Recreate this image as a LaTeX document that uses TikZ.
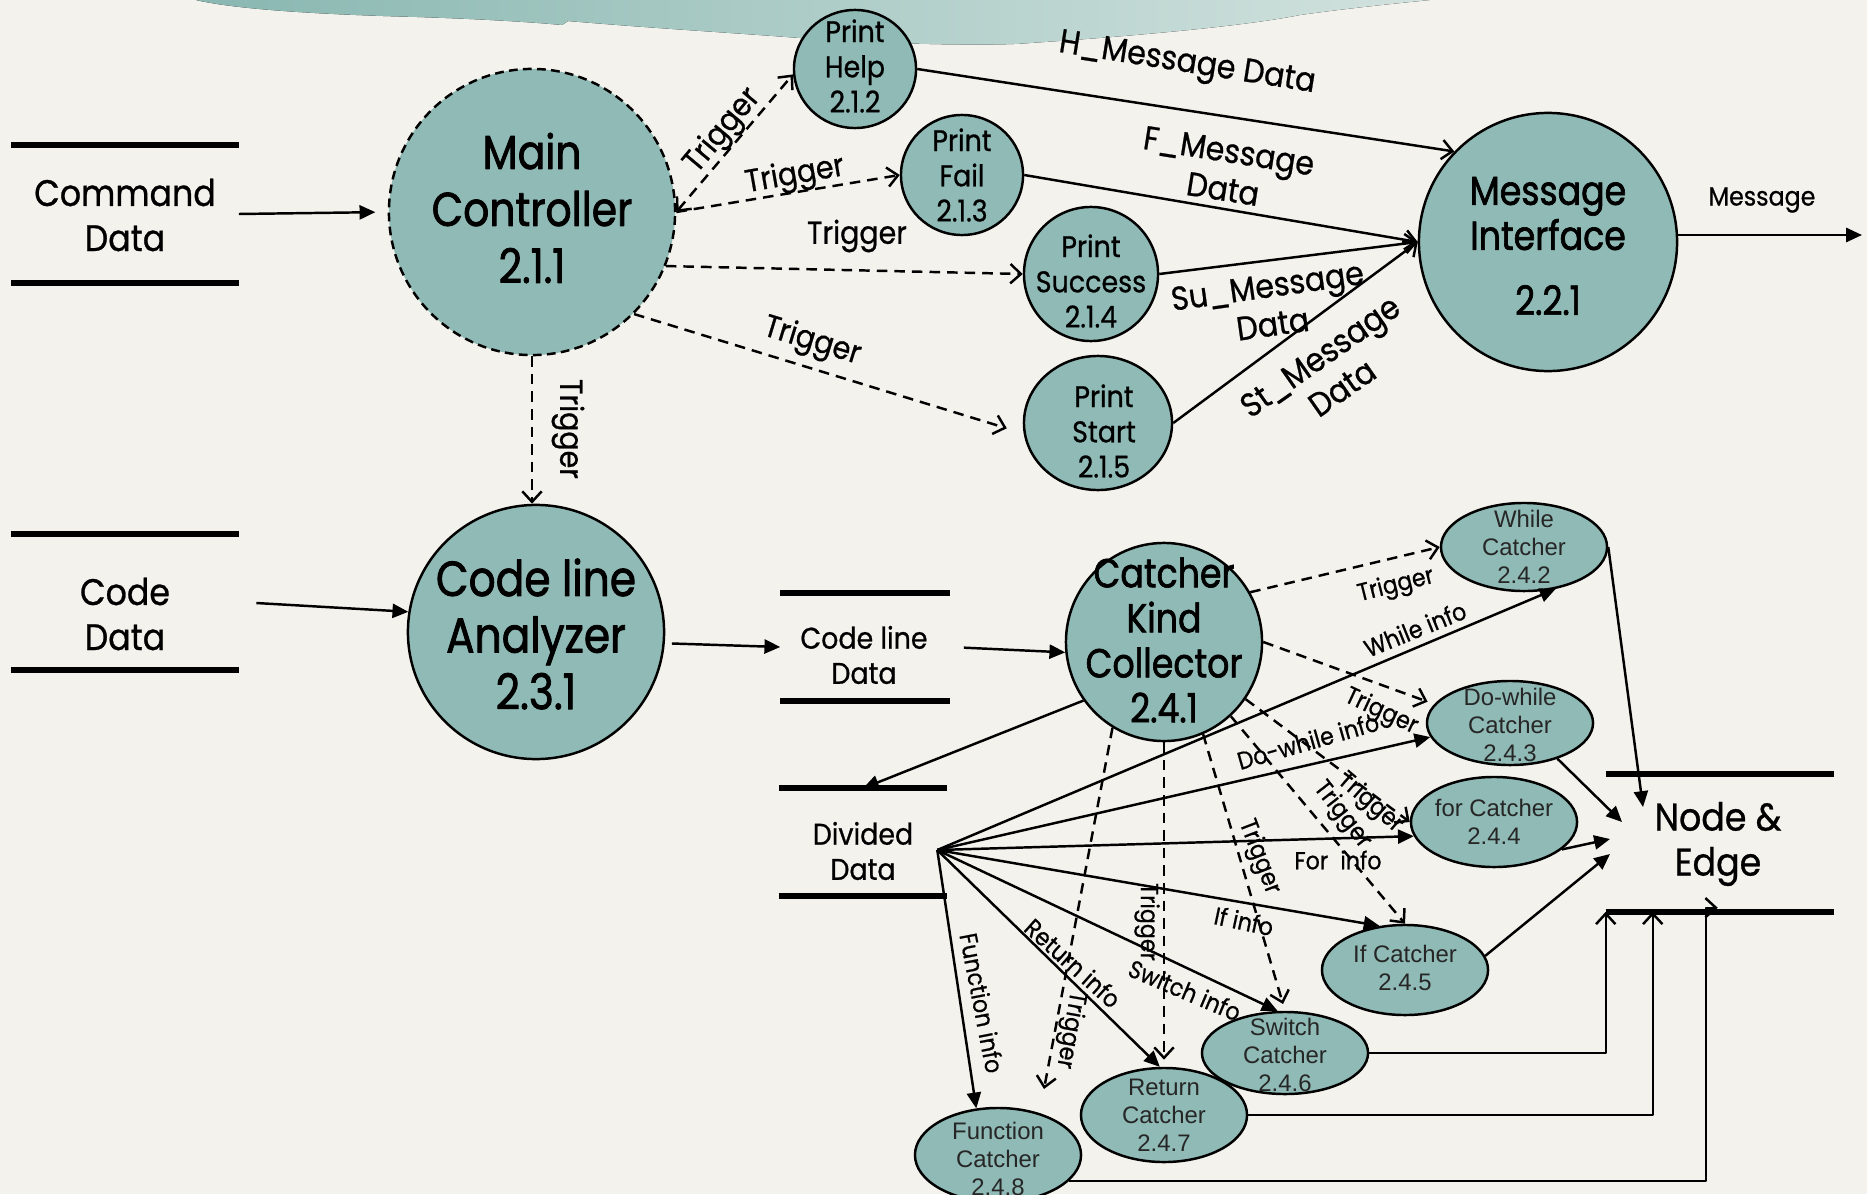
\documentclass[tikz,border=0pt]{standalone}
\usepackage{fontspec}
\usetikzlibrary{shapes.geometric,arrows.meta,calc}
\newfontfamily\gfont[FakeStretch=0.9, FakeBold=0.7]{Poppins}
\newfontfamily\gfontb[FakeStretch=0.86, FakeBold=1.6]{Poppins}
\newfontfamily\kfont{Liberation Sans}
\definecolor{bgc}{RGB}{243,242,237}
\definecolor{tealf}{RGB}{143,186,181}
\definecolor{cloudl}{RGB}{137,183,177}
\definecolor{cloudr}{RGB}{210,226,222}
\definecolor{ktext}{RGB}{38,38,38}
\begin{document}
\begin{tikzpicture}[x=0.01cm, y=-0.01cm, line join=round,
  proc/.style={ellipse, draw=black, line width=0.7pt, fill=tealf, inner sep=0pt},
  cat/.style={proc, minimum width=1.66cm},
  ctext/.style={font=\kfont\fontsize{6.8}{8}\selectfont, text=ktext, align=center, inner sep=0pt},
  bigt/.style={font=\gfontb\fontsize{13.5}{16.2}\selectfont, align=center, inner sep=0pt},
  midt/.style={font=\gfontb\fontsize{11.5}{12.8}\selectfont, align=center, inner sep=0pt},
  stt/.style={font=\gfont\fontsize{10.5}{12.8}\selectfont, align=center, inner sep=0pt},
  smt/.style={font=\gfont\fontsize{8.5}{10}\selectfont, align=center, inner sep=0pt},
  storebox/.style={rectangle, inner sep=0pt},
  storeline/.style={line width=1.8pt},
  ln/.style={line width=0.7pt},
  fa/.style={ln, arrows={-Triangle[length=4.5pt,width=4pt]}},
  oa/.style={ln, arrows={-Straight Barb[length=3pt,width=5.5pt]}},
  da/.style={oa, dash pattern=on 3pt off 2pt},
  ob/.style={ln, dash pattern=on 3pt off 2pt, arrows={Straight Barb[length=3pt,width=5.5pt]-Straight Barb[length=3pt,width=5.5pt]}},
  tl/.style={font=\gfont\fontsize{9}{10}\selectfont, inner sep=0pt},
  ml/.style={font=\gfont\fontsize{9.5}{11}\selectfont, align=center, inner sep=0pt},
  sl/.style={font=\gfont\fontsize{7}{8}\selectfont, inner sep=0pt}
]
% background
\fill[bgc] (0,0) rectangle (1867,1194);
\useasboundingbox (0,0) rectangle (1867,1194);
\clip (0,0) rectangle (1867,1194);
\fill[left color=cloudl, right color=cloudr] (196,0) .. controls (230,8) and (300,14) .. (417,17)
  .. controls (480,19) and (530,22) .. (562,25) -- (568,21)
  .. controls (650,28) and (720,32) .. (800,38) .. controls (900,45) and (1000,46) .. (1030,43)
  .. controls (1150,35) and (1250,25) .. (1300,15) .. controls (1350,8) and (1400,3) .. (1430,0) -- cycle;

% stores
\node[storebox, minimum width=2.26cm, minimum height=1.36cm] (cmdbox) at (125,214) {};
\node[stt] (cmdt) at (125,215) {Command\\Data};
\node[storebox, minimum width=2.26cm, minimum height=1.35cm] (cdbox) at (125,602) {};
\node[stt] (cdt) at (125,614) {Code\\Data};
\node[storebox, minimum width=1.68cm, minimum height=1.07cm] (cldbox) at (865,647) {};
\node[smt] (cldt) at (864,655) {Code line\\Data};
\node[storebox, minimum width=1.67cm, minimum height=1.06cm] (ddbox) at (863,842) {};
\node[smt] (ddt) at (863,851) {Divided\\Data};
\node[storebox, minimum width=2.27cm, minimum height=1.36cm] (nebox) at (1720,843) {};
\node[font=\gfont\fontsize{11}{12.8}\selectfont, align=center, inner sep=0pt] (net) at (1718,844) {Node \&\\Edge};
\foreach \s in {cmdbox,cdbox,cldbox,ddbox,nebox}{
  \draw[storeline] (\s.north west) -- (\s.north east) (\s.south west) -- (\s.south east);
}

% processes
\node[proc, dash pattern=on 2.5pt off 1.5pt, minimum width=2.86cm, minimum height=2.86cm] (mc) at (532,212) {};
\node[bigt] (mct) at (532,208) {Main\\Controller\\2.1.1};
\node[proc, minimum width=1.22cm, minimum height=1.18cm] (pHelp) at (855,69) {};
\node[smt] (pHelpT) at (855,66) {Print\\Help\\2.1.2};
\node[proc, minimum width=1.22cm, minimum height=1.20cm] (pFail) at (962,175) {};
\node[smt] (pFailT) at (962,175) {Print\\Fail\\2.1.3};
\node[proc, minimum width=1.34cm, minimum height=1.34cm] (pSucc) at (1091,274) {};
\node[smt] (pSuccT) at (1091,281) {Print\\Success\\2.1.4};
\node[proc, minimum width=1.48cm, minimum height=1.34cm] (pStart) at (1098,423) {};
\node[smt] (pStartT) at (1104,431) {Print\\Start\\2.1.5};
\node[proc, minimum width=2.58cm, minimum height=2.58cm] (mi) at (1548,242) {};
\node[midt] (miT) at (1548,246) {Message\\Interface\\[5.7pt]2.2.1};
\node[proc, minimum width=2.56cm, minimum height=2.54cm] (cla) at (536,632) {};
\node[font=\gfontb\fontsize{14}{16.1}\selectfont, align=center, inner sep=0pt] (claT) at (536,634) {Code line\\Analyzer\\2.3.1};
\node[proc, minimum width=1.96cm, minimum height=1.98cm] (ckc) at (1164,642) {};
\node[midt] (ckcT) at (1164,640) {Catcher\\Kind\\Collector\\2.4.1};

% catchers
\node[cat, minimum height=0.88cm] (wc) at (1524,547) {};
\node[ctext] (wcT) at (1524,547) {While\\Catcher\\2.4.2};
\node[cat, minimum height=0.84cm] (dwc) at (1510,723) {};
\node[ctext] (dwcT) at (1510,725) {Do-while\\Catcher\\2.4.3};
\node[cat, minimum height=0.90cm] (fc) at (1494,822) {};
\node[ctext] (fcT) at (1494,822) {for Catcher\\2.4.4};
\node[cat, minimum height=0.90cm] (ic) at (1405,970) {};
\node[ctext] (icT) at (1405,968) {If Catcher\\2.4.5};
\node[cat, minimum height=0.82cm] (sc) at (1285,1053) {};
\node[ctext] (scT) at (1285,1055) {Switch\\Catcher\\2.4.6};
\node[cat, minimum height=0.94cm] (rc) at (1164,1115) {};
\node[ctext] (rcT) at (1164,1115) {Return\\Catcher\\2.4.7};
\node[cat, minimum height=0.94cm] (fnc) at (998,1155) {};
\node[ctext] (fncT) at (998,1159) {Function\\Catcher\\2.4.8};

% free ends
\coordinate (msgout) at (1862,235);
\coordinate (ddhub) at ($(ddbox.east)+(-10,8)$);
\coordinate (fntrig) at (1044,1089);
\coordinate (ne1) at (1643,807);
\coordinate (ne2) at (1622,822);
\coordinate (ne3) at (1610,839);
\coordinate (ne4) at (1610,854);

% connectors: upper part
\draw[fa, shorten >=3.5pt] (cmdbox.east) -- (mc.west);
\draw[ob] (mc.east) -- (pHelp.185);
\draw[da] (mc.east) -- (pFail.west);
\draw[da] (mc.-22) -- (pSucc.west);
\draw[da, shorten >=5pt] (mc.-45) -- (pStart.188);
\draw[da] (mc.south) -- (mc.south |- cla.north);
\draw[oa] (pHelp.east) -- (mi.136);
\draw[oa] (pFail.east) -- (mi.west);
\draw[oa] (pSucc.east) -- (mi.west);
\draw[oa] (pStart.east) -- (mi.west);
\draw[fa] (mi.east |- msgout) -- (msgout);

% connectors: lower part
\draw[fa, shorten <=5pt] (cdbox.east) -- (cla.171);
\draw[fa, shorten <=2pt] (cla.-5) -- (cldbox.west);
\draw[fa, shorten <=4pt] (cldbox.east) -- (ckc.186);
\draw[fa] (ckc.216) -- (ddbox.north);

\draw[da] (ckc.30) -- (wc.west);
\draw[da, shorten >=2pt] (ckc.east) -- (dwc.166);
\draw[da] (ckc.-35) -- (fc.west);
\draw[da] (ckc.-48) -- (ic.north);
\draw[da, shorten >=2pt] (ckc.-67) -- (sc.north);
\draw[da, shorten >=2pt] (ckc.south) -- (rc.north);
\draw[da] (ckc.-121) -- (fntrig);

\draw[fa] (ddhub) -- (wc.-53);
\draw[fa] (ddhub) -- (dwc.190);
\draw[fa] (ddhub) -- (fc.190);
\draw[fa] (ddhub) -- (ic.120);
\draw[fa] (ddhub) -- (sc.100);
\draw[fa] (ddhub) -- (rc.95);
\draw[fa] (ddhub) -- (fnc.115);

\draw[fa] (wc.east) -- (ne1);
\draw[fa] (dwc.-37) -- (ne2);
\draw[fa] (fc.-22) -- (ne3);
\draw[fa] (ic.10) -- (ne4);
\draw[oa] (sc.east) -| (nebox.south west);
\draw[oa] (rc.east) -| ($(nebox.south west)+(47,0)$);
\draw[oa] (fnc.-20) -| ($(nebox.south west)+(100,-4)$) -- ++(12,0);

% labels upper
\node[tl, rotate=50] (trg1) at (723,131) {Trigger};
\node[tl, rotate=10] (trg2) at (795,176) {Trigger};
\node[tl] (trg3) at (857,236) {Trigger};
\node[tl, rotate=-17] (trg4) at (812,342) {Trigger};
\node[tl, rotate=-90] (trg5) at (568,429) {Trigger};
\node[ml, rotate=-9] (hmd) at (1187,65) {H\_Message Data};
\node[ml, rotate=-9] (fmd) at (1226,170) {F\_Message\\Data};
\node[ml, rotate=8] (sumd) at (1270,305) {Su\_Message\\Data};
\node[ml, rotate=35] (stmd) at (1331,372) {St\_Message\\Data};
\node[font=\gfont\fontsize{7.5}{9}\selectfont, inner sep=0pt] (msgl) at (1762,200) {Message};

% labels lower
\node[sl, rotate=14] (trgw) at (1396,586) {Trigger};
\node[sl, rotate=-25] (trgd) at (1381,712) {Trigger};
\node[sl, rotate=-41] (trgf) at (1370,803) {Trigger};
\node[sl, rotate=-52] (trgi) at (1342,815) {Trigger};
\node[sl, rotate=-69] (trgs) at (1259,857) {Trigger};
\node[sl, rotate=-90] (trgr) at (1147,922) {Trigger};
\node[sl, rotate=-100] (trgn) at (1070,1030) {Trigger};
\node[sl, rotate=22] (wi) at (1415,629) {While info};
\node[sl, rotate=16] (dwi) at (1308,741) {Do-while info};
\node[sl] (fi) at (1338,860) {For\hspace{0.5em}info};
\node[sl, rotate=-12] (ii) at (1244,921) {If info};
\node[sl, rotate=-23] (si) at (1185,990) {Switch info};
\node[sl, rotate=-42] (ri) at (1073,963) {Return info};
\node[sl, rotate=-79] (fni) at (982,1003) {Function info};
\end{tikzpicture}
\end{document}
